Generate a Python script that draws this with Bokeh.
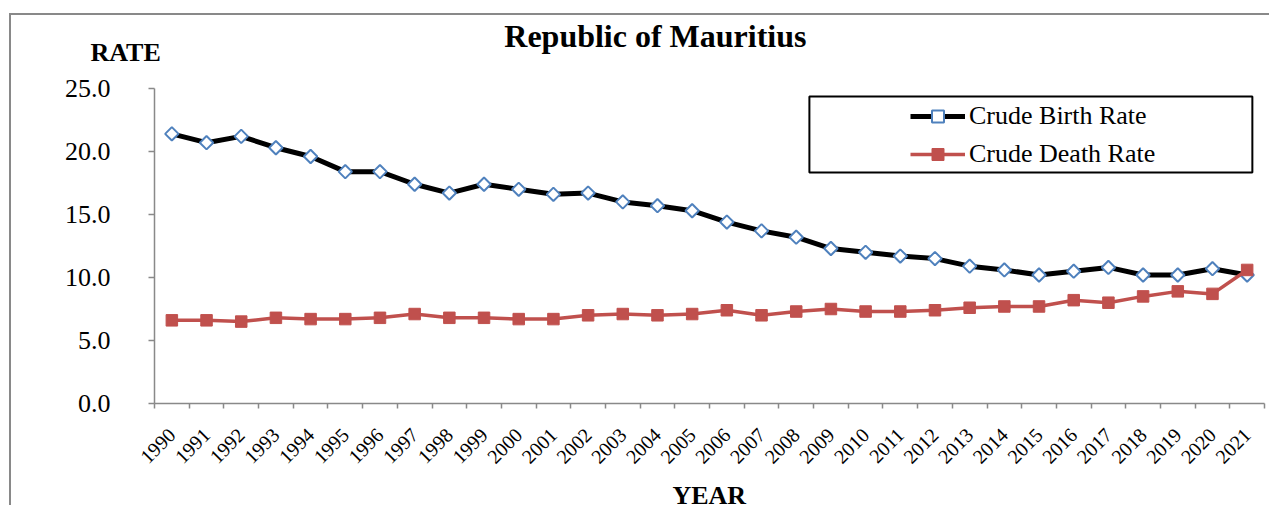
import numpy as np
from bokeh.plotting import figure
from bokeh.models import (Range1d, FixedTicker, Legend, LegendItem,
                          BoxAnnotation, PrintfTickFormatter)
from bokeh.core.properties import value
from bokeh.embed import file_html
from bokeh.resources import INLINE

years = [str(y) for y in range(1990, 2022)]
birth = [21.4, 20.7, 21.2, 20.3, 19.6, 18.4, 18.4, 17.4, 16.7, 17.4, 17.0, 16.6,
         16.7, 16.0, 15.7, 15.3, 14.4, 13.7, 13.2, 12.3, 12.0, 11.7, 11.5, 10.9,
         10.6, 10.2, 10.5, 10.8, 10.2, 10.2, 10.7, 10.2]
death = [6.6, 6.6, 6.5, 6.8, 6.7, 6.7, 6.8, 7.1, 6.8, 6.8, 6.7, 6.7,
         7.0, 7.1, 7.0, 7.1, 7.4, 7.0, 7.3, 7.5, 7.3, 7.3, 7.4, 7.6,
         7.7, 7.7, 8.2, 8.0, 8.5, 8.9, 8.7, 10.6]
y_ticks = [0, 5, 10, 15, 20, 25]

n = len(years)
xs = [i + 0.5 for i in range(n)]

FONT = "Liberation Serif"
GRAY = "#898989"

p = figure(width=1260, height=492, output_backend="svg", toolbar_location=None,
           x_range=Range1d(0, n), y_range=Range1d(0, 25),
           min_border_left=143, min_border_right=7, min_border_top=73,
           min_border_bottom=104)
p.styles = {"margin-left": "9px", "margin-top": "13px",
            "border-left": "2px solid #898989", "border-top": "2px solid #898989"}
p.grid.visible = False
p.outline_line_color = None

# x axis
p.xaxis.ticker = FixedTicker(ticks=xs, minor_ticks=list(range(n + 1)))
p.xaxis.major_label_overrides = {x: y for x, y in zip(xs, years)}
p.xaxis.major_tick_line_color = None
p.xaxis.minor_tick_line_color = GRAY
p.xaxis.minor_tick_line_width = 1.5
p.xaxis.minor_tick_in = 0
p.xaxis.minor_tick_out = 5
p.xaxis.axis_line_color = GRAY
p.xaxis.axis_line_width = 1.5
p.xaxis.major_label_orientation = np.pi / 4
p.xaxis.major_label_text_font = FONT
p.xaxis.major_label_text_font_size = "20px"
p.xaxis.major_label_text_color = "black"
p.xaxis.major_label_standoff = 22

# y axis
p.yaxis.ticker = FixedTicker(ticks=y_ticks)
p.yaxis.formatter = PrintfTickFormatter(format="%.1f")
p.yaxis.major_tick_line_color = GRAY
p.yaxis.major_tick_line_width = 1.5
p.yaxis.major_tick_in = 0
p.yaxis.major_tick_out = 6
p.yaxis.minor_tick_line_color = None
p.yaxis.axis_line_color = GRAY
p.yaxis.axis_line_width = 1.5
p.yaxis.major_label_text_font = FONT
p.yaxis.major_label_text_font_size = "26px"
p.yaxis.major_label_text_color = "black"
p.yaxis.major_label_standoff = 38

# series
bl = p.line(xs, birth, line_color="black", line_width=5)
bm = p.scatter(xs, birth, marker="square", angle=np.pi / 4, size=9.5,
               fill_color="white", line_color="#4F81BD", line_width=2)
dl = p.line(xs, death, line_color="#C0504D", line_width=3.5)
dm = p.scatter(xs, death, marker="square", size=11.5,
               fill_color="#C0504D", line_color="#C0504D")

# legend box
p.add_layout(BoxAnnotation(left=18.88, right=31.65, top=24.37, bottom=18.33,
                           fill_alpha=0, line_color="black", line_alpha=1,
                           line_width=2))
legend = Legend(items=[LegendItem(label="Crude Birth Rate", renderers=[bl, bm]),
                       LegendItem(label="Crude Death Rate", renderers=[dl, dm])],
                location=(756, 234), orientation="vertical",
                border_line_color=None, background_fill_alpha=0,
                padding=0, margin=0, spacing=8,
                glyph_width=55, glyph_height=30, label_height=30,
                label_standoff=4, label_text_font=FONT,
                label_text_font_size="26px", label_text_color="black")
p.add_layout(legend, "center")

# chart title and axis titles as text glyphs on the overlay level
p.text(x=[14.44], y=[29.13], text=["Republic of Mauritius"], level="overlay",
       text_font=value(FONT), text_font_size="32px", text_font_style="bold",
       text_align="center", text_baseline="alphabetic", text_color="black")
p.text(x=[-1.845], y=[27.85], text=["RATE"], level="overlay",
       text_font=value(FONT), text_font_size="26px", text_font_style="bold",
       text_align="left", text_baseline="alphabetic", text_color="black")
p.text(x=[14.93], y=[-7.3], text=["YEAR"], level="overlay",
       text_font=value(FONT), text_font_size="26px", text_font_style="bold",
       text_align="left", text_baseline="alphabetic", text_color="black")

open("out.html", "w").write(file_html(p, INLINE))
